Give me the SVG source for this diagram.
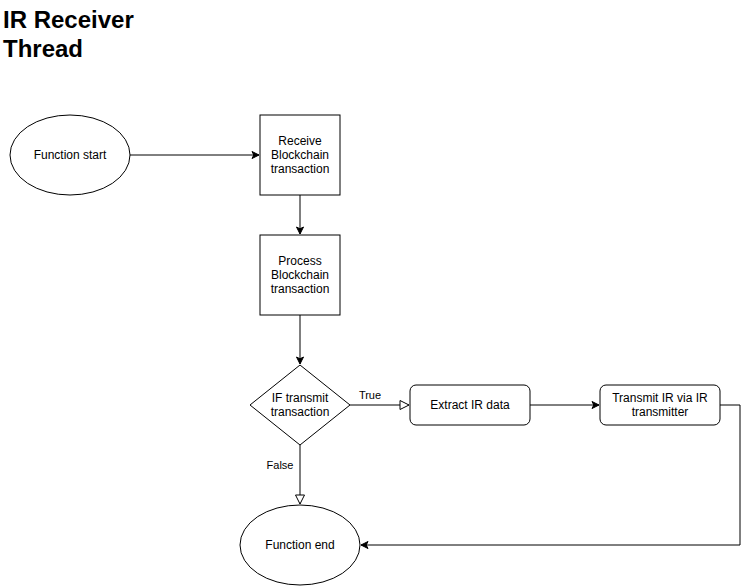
<svg xmlns="http://www.w3.org/2000/svg" width="749" height="586" viewBox="0 0 749 586">
<style>
.s{fill:#fff;stroke:#000;stroke-width:1}
.t{font-family:"Liberation Sans",Arial,sans-serif;font-size:12px;fill:#000;text-anchor:middle}
.l{font-family:"Liberation Sans",Arial,sans-serif;font-size:11px;fill:#000;text-anchor:middle}
.c{fill:none;stroke:#000;stroke-width:1}
</style>
<defs>
<marker id="af" markerWidth="10" markerHeight="10" refX="8" refY="5" orient="auto" markerUnits="userSpaceOnUse">
<path d="M1,1.5 L8,5 L1,8.5 L2.8,5 Z" fill="#000" stroke="#000"/>
</marker>
<marker id="ao" markerWidth="12" markerHeight="12" refX="10" refY="6" orient="auto" markerUnits="userSpaceOnUse">
<path d="M1,1.5 L10,6 L1,10.5 Z" fill="#fff" stroke="#000"/>
</marker>
</defs>
<rect width="749" height="586" fill="#fff"/>
<text x="3" y="28" font-family="Liberation Sans,Arial,sans-serif" font-size="24" font-weight="bold">IR Receiver</text>
<text x="3" y="57" font-family="Liberation Sans,Arial,sans-serif" font-size="24" font-weight="bold">Thread</text>
<g id="connectors">
<path class="c" d="M130,155 L259,155" marker-end="url(#af)"/>
<path class="c" d="M300,195 L300,234" marker-end="url(#af)"/>
<path class="c" d="M300,315 L300,364" marker-end="url(#af)"/>
<path class="c" d="M350,405 L409,405" marker-end="url(#ao)"/>
<path class="c" d="M530,405 L599,405" marker-end="url(#af)"/>
<path class="c" d="M300,445 L300,504" marker-end="url(#ao)"/>
<path class="c" d="M720,405 L740,405 L740,545 L361,545" marker-end="url(#af)"/>
<text class="l" x="370" y="399">True</text>
<text class="l" x="280" y="469">False</text>
</g>
<g id="start">
<ellipse class="s" cx="70" cy="155" rx="60" ry="40"/>
<text class="t" x="70" y="159">Function start</text>
</g>
<g id="receive">
<rect class="s" x="260" y="115" width="80" height="80"/>
<text class="t" x="300" y="145">Receive</text>
<text class="t" x="300" y="159">Blockchain</text>
<text class="t" x="300" y="173">transaction</text>
</g>
<g id="process">
<rect class="s" x="260" y="235" width="80" height="80"/>
<text class="t" x="300" y="265">Process</text>
<text class="t" x="300" y="279">Blockchain</text>
<text class="t" x="300" y="293">transaction</text>
</g>
<g id="decision">
<path class="s" d="M300,365 L350,405 L300,445 L250,405 Z"/>
<text class="t" x="300" y="402">IF transmit</text>
<text class="t" x="300" y="416">transaction</text>
</g>
<g id="extract">
<rect class="s" x="410" y="385" width="120" height="40" rx="6"/>
<text class="t" x="470" y="409">Extract IR data</text>
</g>
<g id="transmit">
<rect class="s" x="600" y="385" width="120" height="40" rx="6"/>
<text class="t" x="660" y="402">Transmit IR via IR</text>
<text class="t" x="660" y="416">transmitter</text>
</g>
<g id="end">
<ellipse class="s" cx="300" cy="545" rx="60" ry="40"/>
<text class="t" x="300" y="549">Function end</text>
</g>
</svg>
